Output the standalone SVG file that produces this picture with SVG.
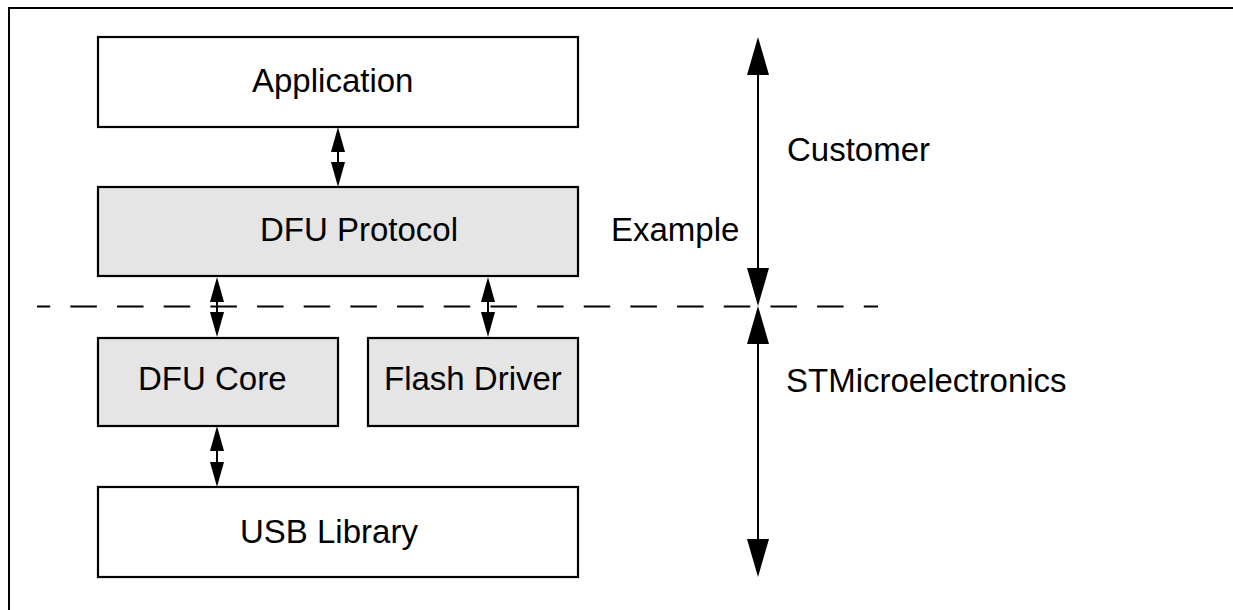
<svg xmlns="http://www.w3.org/2000/svg" width="1233" height="610" viewBox="0 0 1233 610">
<defs>
<style>
.box{stroke:#000;stroke-width:2.2;}
.w{fill:#fff;}
.g{fill:#e5e5e5;}
.t{font-family:"Liberation Sans",Arial,sans-serif;font-size:33px;fill:#000;}
.ln{stroke:#000;stroke-width:2;fill:none;}
.hd{fill:#000;stroke:none;}
</style>
</defs>
<rect width="1233" height="610" fill="#fff"/>
<g id="frame">
<path d="M9,610 V8 H1233" class="ln" stroke-width="2.2"/>
</g>
<g id="application"><rect class="box w" x="98" y="37" width="480" height="90"/><text class="t" x="252" y="92">Application</text></g>
<g id="dfu-protocol"><rect class="box g" x="98" y="187" width="480" height="89"/><text class="t" x="260" y="241">DFU Protocol</text></g>
<g id="dfu-core"><rect class="box g" x="98" y="338" width="240" height="88"/><text class="t" x="138" y="390">DFU Core</text></g>
<g id="flash-driver"><rect class="box g" x="368" y="338" width="210" height="88"/><text class="t" x="384" y="390">Flash Driver</text></g>
<g id="usb-library"><rect class="box w" x="98" y="487" width="480" height="90"/><text class="t" x="240" y="543">USB Library</text></g>
<g id="label-customer"><text class="t" x="787" y="161">Customer</text></g>
<g id="label-example"><text class="t" x="611" y="241">Example</text></g>
<g id="label-st"><text class="t" x="786" y="392">STMicroelectronics</text></g>
<g id="connectors">
<line x1="37" y1="306.5" x2="878" y2="306.5" stroke="#000" stroke-width="2" stroke-dasharray="26.5 20.17" stroke-dashoffset="13.3"/>
<!-- Application <-> DFU Protocol -->
<line class="ln" x1="338" y1="140" x2="338" y2="175"/>
<polygon class="hd" points="338,127 345,152 331,152"/>
<polygon class="hd" points="338,187 345,162 331,162"/>
<!-- DFU Protocol <-> DFU Core -->
<line class="ln" x1="217" y1="290" x2="217" y2="325"/>
<polygon class="hd" points="217,277 224,302 210,302"/>
<polygon class="hd" points="217,337 224,312 210,312"/>
<!-- DFU Protocol <-> Flash Driver -->
<line class="ln" x1="488" y1="290" x2="488" y2="325"/>
<polygon class="hd" points="488,277 495,302 481,302"/>
<polygon class="hd" points="488,337 495,312 481,312"/>
<!-- DFU Core <-> USB Library -->
<line class="ln" x1="217" y1="440" x2="217" y2="475"/>
<polygon class="hd" points="217,426 224,451 210,451"/>
<polygon class="hd" points="217,487 224,462 210,462"/>
<!-- Customer span -->
<line class="ln" x1="758" y1="70" x2="758" y2="272"/>
<polygon class="hd" points="758,37 769,75 747,75"/>
<polygon class="hd" points="758,306 769,268 747,268"/>
<!-- STMicroelectronics span -->
<line class="ln" x1="758" y1="340" x2="758" y2="544"/>
<polygon class="hd" points="758,306 769,344 747,344"/>
<polygon class="hd" points="758,577 769,539 747,539"/>
</g>
</svg>
